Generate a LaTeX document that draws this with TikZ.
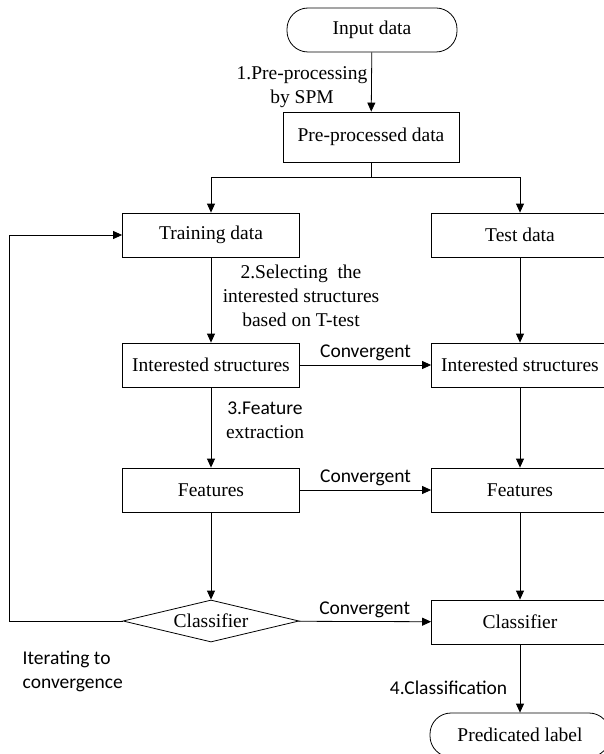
\documentclass[tikz,border=0pt]{standalone}
\usepackage{fontspec}
\setmainfont{Liberation Serif}
\newfontfamily\calib{Carlito}
\usetikzlibrary{arrows.meta,shapes.geometric}

\begin{document}
\begin{tikzpicture}[x=1pt,y=-1pt,line width=0.8pt,
  box/.style={draw,minimum width=177pt,minimum height=44pt,inner sep=0pt,font=\fontsize{19.5}{24}\selectfont},
  term/.style={box,rounded corners=21pt},
  arr/.style={-{Triangle[length=9pt,width=8pt]}},
  lab/.style={align=center,font=\fontsize{19.5}{24}\selectfont},
  conv/.style={above,font=\calib\fontsize{19.5}{24}\selectfont}]
\useasboundingbox (0,0) rectangle (604,754);
% boxes
\node[term,minimum width=170pt] (inp) at (372,30) {Input data};
\node[box,minimum width=176pt,minimum height=50pt] (pre) at (371,137) {Pre-processed data};
\node[box] (train) at (211,235) {Training data}; \node[box] (test) at (520,235) {Test data};
\node[box] (intL) at (211,365) {Interested structures}; \node[box] (intR) at (520,365) {Interested structures};
\node[box] (featL) at (211,490) {Features}; \node[box] (featR) at (520,490) {Features};
\node[draw,diamond,aspect=4,minimum width=176pt,minimum height=42pt,inner sep=0pt,font=\fontsize{19.5}{24}\selectfont] (clsL) at (211,621) {Classifier};
\node[box] (clsR) at (520,622) {Classifier};
\node[term,minimum width=180pt] (pred) at (520,735) {Predicated label};
\coordinate (split) at (371,177); \coordinate (loop) at (9,621);
% connectors
\draw[arr] (inp) -- (pre); \draw (pre) -- (split);
\draw[arr] (split) -| (train); \draw[arr] (split) -| (test);
\foreach \a/\b in {train/intL,intL/featL,featL/clsL,test/intR,intR/featR,featR/clsR,clsR/pred}{\draw[arr] (\a) -- (\b);}
\foreach \a/\b in {intL/intR,featL/featR,clsL/clsR}{\draw[arr] (\a) -- node[conv]{Convergent} (\b);}
\draw[arr] (clsL.west) -- (loop) |- (train.west);
% step labels
\node[lab] (s1) at (302,87) {1.Pre-processing\\by SPM};
\node[lab] (s2) at (301,296) {2.Selecting~ the\\interested structures\\based on T-test};
\node[lab] (s3) at (265,420) {{\calib 3.Feature}\\extraction};
\node[lab,font=\calib\fontsize{19.5}{24}\selectfont,anchor=east] (s4) at (511,688) {4.Classification};
\node[lab,font=\calib\fontsize{19.5}{24}\selectfont,align=left,anchor=west] (it) at (19,671) {Iterating to\\convergence};
\end{tikzpicture}
\end{document}
